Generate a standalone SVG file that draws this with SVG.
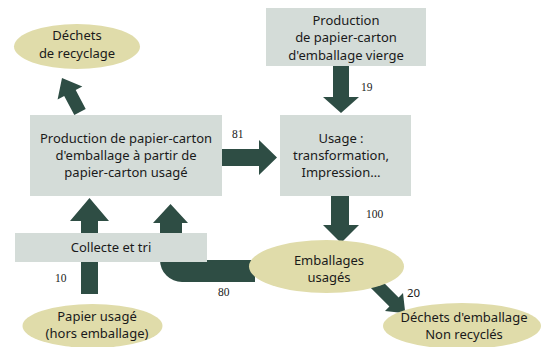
<svg xmlns="http://www.w3.org/2000/svg" width="541" height="347" viewBox="0 0 541 347">
<style>
.box{fill:#d4dcd8}
.ell{fill:#e0dcaa}
.arr{fill:#2e4d44}
.t{font-family:"Noto Sans","Open Sans","DejaVu Sans",sans-serif;font-size:13px;fill:#1a1a1a;text-anchor:middle}
.n{font-family:"Liberation Serif","Times New Roman",serif;font-size:11.5px;fill:#1a1a1a}
.ns{font-family:"Noto Sans","DejaVu Sans",sans-serif;font-size:11.5px;fill:#1a1a1a}
</style>
<rect width="541" height="347" fill="#ffffff"/>
<g id="connectors">
  <!-- to Déchets de recyclage -->
  <polygon class="arr" points="62,78 82.3,86.4 75.7,90 85.7,109 74.3,115 64.2,96 57.6,99.6"/>
  <!-- 19 -->
  <polygon class="arr" points="333,66 349,66 349,97 359,97 341,113 323,97 333,97"/>
  <text class="n" x="361" y="91">19</text>
  <!-- 81 -->
  <polygon class="arr" points="222,149 259,149 259,140 277,157.5 259,175 259,166 222,166"/>
  <text class="n" x="232" y="138">81</text>
  <!-- 100 -->
  <polygon class="arr" points="331,196 349,196 349,225 359,225 341,243 323,225 331,225"/>
  <text class="n" x="366" y="218">100</text>
  <!-- 10 -->
  <polygon class="arr" points="81,294 81,221 70,221 89.5,198 109,221 98,221 98,294"/>
  <text class="n" x="55" y="282">10</text>
  <!-- 80 -->
  <path class="arr" d="M255 260 L182 260 L182 223 L188 223 L170.5 204 L153 223 L160 223 L160 260 A22 22 0 0 0 182 282 L255 282 Z"/>
  <text class="n" x="218" y="296">80</text>
  <!-- 20 -->
  <polygon class="arr" points="374.6,273.4 398.6,297.4 403,293 405.3,313.3 385,311 389.4,306.6 365.4,282.6"/>
  <text class="ns" x="407" y="297">20</text>
</g>
<g id="dechets-recyclage">
  <ellipse class="ell" cx="77" cy="46.5" rx="63" ry="22.5"/>
  <text class="t" x="77" y="40">Déchets</text>
  <text class="t" x="77" y="58">de recyclage</text>
</g>
<g id="production-vierge">
  <rect class="box" x="266" y="8" width="160" height="58"/>
  <text class="t" x="346" y="25">Production</text>
  <text class="t" x="346" y="42">de papier-carton</text>
  <text class="t" x="346" y="60">d'emballage vierge</text>
</g>
<g id="production-recyclee">
  <rect class="box" x="30" y="115" width="192" height="81"/>
  <text class="t" x="126" y="143">Production de papier-carton</text>
  <text class="t" x="126" y="160">d'emballage à partir de</text>
  <text class="t" x="126" y="177">papier-carton usagé</text>
</g>
<g id="usage">
  <rect class="box" x="280" y="115" width="131" height="81"/>
  <text class="t" x="341" y="143">Usage :</text>
  <text class="t" x="341" y="160">transformation,</text>
  <text class="t" x="341" y="177">Impression…</text>
</g>
<g id="collecte">
  <rect class="box" x="15" y="233" width="192" height="29"/>
  <text class="t" x="111" y="252">Collecte et tri</text>
</g>
<g id="emballages-usages">
  <ellipse class="ell" cx="326.5" cy="266.5" rx="77.5" ry="26.5"/>
  <text class="t" x="329" y="265">Emballages</text>
  <text class="t" x="329" y="282">usagés</text>
</g>
<g id="dechets-emballage">
  <ellipse class="ell" cx="462" cy="326" rx="79" ry="23"/>
  <text class="t" x="464" y="322">Déchets d'emballage</text>
  <text class="t" x="464" y="339">Non recyclés</text>
</g>
<g id="papier-usage">
  <ellipse class="ell" cx="92.5" cy="326" rx="70" ry="22"/>
  <text class="t" x="97" y="321">Papier usagé</text>
  <text class="t" x="97" y="338">(hors emballage)</text>
</g>
</svg>
